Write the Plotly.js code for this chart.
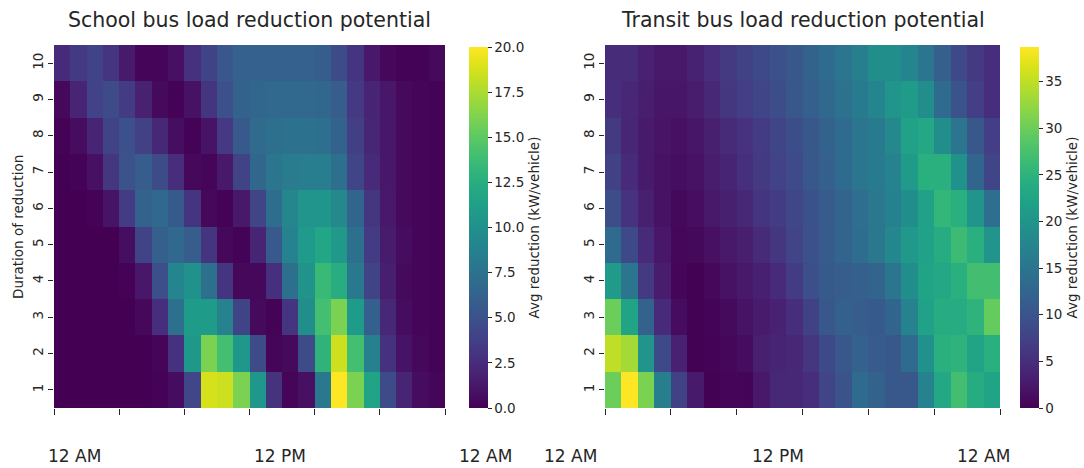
<!DOCTYPE html>
<html>
<head>
<meta charset="utf-8">
<script src="https://cdn.plot.ly/plotly-3.0.1.min.js"></script>
<style>html,body{margin:0;padding:0;background:#fff;}#chart{width:1084px;height:468px;}</style>
</head>
<body>
<div id="chart"></div>
<script>
// ---- data ----
const hours = [0,1,2,3,4,5,6,7,8,9,10,11,12,13,14,15,16,17,18,19,20,21,22,23];
const durations = [1,2,3,4,5,6,7,8,9,10];
const timeLabels = ['12 AM', '12 PM', '12 AM'];
const titles = ['School bus load reduction potential', 'Transit bus load reduction potential'];
const yTitle = 'Duration of reduction';
const cbTitle = 'Avg reduction (kW/vehicle)';

// School bus: rows = duration 1..10, columns = hour 0..23
const school1  = [0,0,0,0,0,0,0.1,0.6,4.2,18.7,18.5,16,10.5,2.9,0.2,0.8,8,20,16,11.6,4.6,2,0.6,0.2];
const school2  = [0,0,0,0,0,0,0.3,2.8,10.5,16,14,10.5,4.5,0.3,0.5,4.6,13,18.5,14,8.6,2.8,1,0.4,0.1];
const school3  = [0,0,0,0,0,0.4,2.6,7.4,11,11,8.8,4,0.5,0.1,3,9.8,14,16,11,6,2.2,0.6,0.3,0.1];
const school4  = [0,0,0,0,0.1,1.2,4.8,9,10,7.4,3,0.4,0.4,2.7,7.4,10.2,13.5,12.5,8,4,1.6,0.5,0.2,0.1];
const school5  = [0,0,0,0,0.7,4,6,6.8,5.8,3,0.4,0.1,2,5.5,8.8,10.8,11.8,10.6,7.4,3.5,1.5,0.6,0.3,0.1];
const school6  = [0,0,0.1,1,3.5,6.2,6.8,5.6,3,0.4,0.1,1.3,4.1,7.1,9.1,10.3,10.4,9.3,6.4,3.1,1.3,0.5,0.3,0.1];
const school7  = [0,0.1,0.8,3.1,5,5.8,4.6,2.5,0.4,0.2,1.3,4,6.6,7.8,8.3,8.4,8.4,7.4,4.1,2.4,1.2,0.5,0.2,0.1];
const school8  = [0.1,0.6,2,4,4.9,3.8,2.2,0.7,0.1,1,3.3,5.5,6.9,7.4,7.5,7.5,7.3,6.2,3.7,2.1,1.2,0.5,0.2,0.1];
const school9  = [0.4,2,3.9,4.6,3.5,1.8,0.5,0.1,0.9,3,4.9,6.2,6.6,6.8,6.8,6.8,6.6,5.8,3.3,2,1.2,0.5,0.2,0.1];
const school10 = [2.4,3.4,4,3,1.4,0.3,0.2,0.8,2.8,4,5.4,6.1,6.1,6.1,6.1,6.1,5.8,4.6,3,1.3,0.4,0.1,0.1,0.5];

// Transit bus
const transit1  = [30,38.7,31,16.5,7.5,2.7,0.1,0.5,0.3,2.4,4.3,4.3,5,7.8,10,13.5,12,10.5,10.5,17,23,27,24,22.5];
const transit2  = [35,33.5,20,8.5,3.5,0.1,0.2,0.6,1.2,3.3,3.8,4.2,6,8.5,10.5,11.8,11,10.5,13.5,19.5,24.5,25,22.5,24.5];
const transit3  = [30,22.5,12,4.5,1.2,0.1,0.3,1,1.9,2.8,3.5,5,7.5,10.5,11.7,11.3,10.8,12.5,17,22,24,23.8,25,29.5];
const transit4  = [21,15,6.5,3,0.4,0.1,0.7,1.8,2.6,3.4,4.5,6.8,9.3,10.8,11.3,11.5,12.3,15,19,22.5,23,24.5,27,27];
const transit5  = [13.5,8.5,4.5,2.3,0.6,0.8,1.6,2.4,3.2,4.6,6,7.8,9.5,11,12.3,13.8,15.3,17.8,20.5,22,24,26.5,24.5,20];
const transit6  = [9,5.5,3.3,1.8,0.8,1.3,2.4,3.3,4.3,5.7,6.8,8.2,9.6,11,12.3,14,15.3,16.8,19,22,25.5,24.5,20,14];
const transit7  = [7.5,4.5,2.7,1.8,1.4,1.8,3,3.9,5.3,6.5,7.6,8.7,10.5,11.5,13.5,15,16,17,21,24.5,24.5,19.5,12.5,8];
const transit8  = [6.5,4,2.7,2,1.6,2.2,3.3,4.6,5.5,6.8,8,9.2,10.5,12,13.5,15,16,18,22,23,19,15,10.5,7];
const transit9  = [5,4.2,3.2,2.2,2.2,3,4.3,6,7,8,9,10.5,11.5,13,14.5,16,17.5,20,21,19,13.5,10,7,5];
const transit10 = [4.7,4.7,3.5,2.5,2.5,3.6,4.8,6.5,7.5,8.5,9.5,10.5,12,13.5,15,16.5,19,19,17.5,15,11.5,8.5,6.5,5];

const schoolZ = [school1,school2,school3,school4,school5,school6,school7,school8,school9,school10];
const transitZ = [transit1,transit2,transit3,transit4,transit5,transit6,transit7,transit8,transit9,transit10];

// ---- layout helpers ----
const W = 1084, H = 468;
const px = v => v / W;
const py = v => 1 - v / H;
const FONT = 'DejaVu Sans, sans-serif';
const TXT = '#262626';

const xTicks = [0,4,8,12,16,20,24].map(v => v - 0.5);

const cbCommon = {
  thickness: 19, thicknessmode: 'pixels',
  len: 361, lenmode: 'pixels',
  y: py(408), yanchor: 'bottom',
  xanchor: 'left', xpad: 0, ypad: 0,
  outlinewidth: 0,
  ticks: 'outside', ticklen: 4, tickcolor: TXT,
  tickfont: {family: FONT, size: 13.5, color: TXT},
  title: {text: cbTitle, side: 'right', font: {family: FONT, size: 13.5, color: TXT}}
};

const traces = [
  {
    type: 'heatmap', x: hours, y: durations, z: schoolZ,
    colorscale: 'Viridis', zmin: 0, zmax: 20,
    xaxis: 'x', yaxis: 'y',
    colorbar: Object.assign({}, cbCommon, {x: px(469), tickvals: [0,2.5,5,7.5,10,12.5,15,17.5,20], tickformat: '.1f'})
  },
  {
    type: 'heatmap', x: hours, y: durations, z: transitZ,
    colorscale: 'Viridis', zmin: 0, zmax: 38.7,
    xaxis: 'x2', yaxis: 'y2',
    colorbar: Object.assign({}, cbCommon, {x: px(1020), tickvals: [0,5,10,15,20,25,30,35], tickformat: 'd'})
  }
];

const xCommon = {
  range: [-0.5, 23.5], tickvals: xTicks, showticklabels: false,
  ticks: 'outside', ticklen: 6, tickcolor: TXT, tickwidth: 1,
  showgrid: false, zeroline: false, showline: false, fixedrange: true
};
const yCommon = {
  range: [0.5, 10.5], tickvals: durations, tickangle: -90,
  ticks: 'outside', ticklen: 5, tickcolor: TXT, tickwidth: 1,
  tickfont: {family: FONT, size: 13.5, color: TXT},
  showgrid: false, zeroline: false, showline: false,
  domain: [py(408), py(45)]
};

const annotations = [];
// titles
annotations.push({text: titles[0], x: (px(54)+px(445))/2, y: py(20), xref: 'paper', yref: 'paper', showarrow: false, xanchor: 'center', yanchor: 'middle', font: {family: FONT, size: 20.5, color: TXT}});
annotations.push({text: titles[1], x: (px(605)+px(1000))/2, y: py(20), xref: 'paper', yref: 'paper', showarrow: false, xanchor: 'center', yanchor: 'middle', font: {family: FONT, size: 20.5, color: TXT}});
// y title
annotations.push({text: yTitle, x: px(18), y: py(227), xref: 'paper', yref: 'paper', showarrow: false, textangle: -90, xanchor: 'center', yanchor: 'middle', font: {family: FONT, size: 13.5, color: TXT}});
// time labels
const leftLabelX = [74, 280, 485];
const rightLabelX = [570, 778, 983];
timeLabels.forEach((t, i) => {
  annotations.push({text: t, x: px(leftLabelX[i]), y: py(456), xref: 'paper', yref: 'paper', showarrow: false, xanchor: 'center', yanchor: 'middle', font: {family: FONT, size: 17, color: TXT}});
  annotations.push({text: t, x: px(rightLabelX[i]), y: py(456), xref: 'paper', yref: 'paper', showarrow: false, xanchor: 'center', yanchor: 'middle', font: {family: FONT, size: 17, color: TXT}});
});

const layout = {
  width: W, height: H,
  margin: {l: 0, r: 0, t: 0, b: 0, pad: 0},
  paper_bgcolor: '#ffffff', plot_bgcolor: '#ffffff',
  font: {family: FONT, color: TXT},
  showlegend: false,
  xaxis: Object.assign({}, xCommon, {domain: [px(54), px(445)], anchor: 'y'}),
  xaxis2: Object.assign({}, xCommon, {domain: [px(605), px(1000)], anchor: 'y2'}),
  yaxis: Object.assign({}, yCommon, {anchor: 'x'}),
  yaxis2: Object.assign({}, yCommon, {anchor: 'x2'}),
  annotations: annotations
};

Plotly.newPlot('chart', traces, layout, {staticPlot: true, displayModeBar: false});
</script>
</body>
</html>
